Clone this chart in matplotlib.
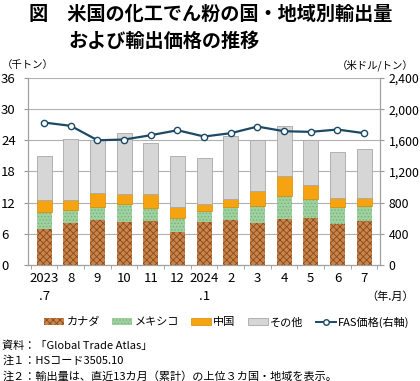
import matplotlib
matplotlib.use('Agg')
import matplotlib.pyplot as plt
import numpy as np
from matplotlib.patches import Patch
from matplotlib.lines import Line2D

plt.rcParams['font.family'] = ['Noto Sans CJK JP', 'DejaVu Sans']
plt.rcParams['hatch.linewidth'] = 0.6

# data (千トン, 米ドル/トン)
months = ['2023\n.7', '8', '9', '10', '11', '12', '2024\n.1', '2', '3', '4', '5', '6', '7']
canada = [6.9, 8.05, 8.6, 8.3, 8.4, 6.3, 8.2, 8.6, 8.0, 8.8, 9.1, 7.9, 8.4]
mexico = [3.3, 2.45, 2.5, 3.5, 2.6, 2.7, 2.1, 2.5, 3.3, 4.4, 3.5, 3.2, 2.9]
china = [2.2, 2.0, 2.7, 1.9, 2.6, 2.1, 1.5, 1.6, 2.9, 3.9, 2.8, 1.7, 1.5]
other = [8.6, 11.8, 10.2, 11.8, 9.9, 9.8, 8.7, 12.1, 9.9, 9.6, 8.6, 8.9, 9.5]
fas_price = [1829, 1786, 1601, 1610, 1666, 1730, 1649, 1692, 1777, 1717, 1709, 1739, 1692]

c_canada = '#c8844a'
c_mexico = '#9fd09f'
c_china = '#f5a310'
c_other = '#d6d6d6'
c_line = '#1c4a66'

fig = plt.figure(figsize=(4.2, 3.81), dpi=100)
ax = fig.add_axes([0.067, 0.305, 0.838, 0.49])
ax2 = ax.twinx()

x = np.arange(len(months))
w = 0.57
b1 = np.array(canada)
b2 = b1 + np.array(mexico)
b3 = b2 + np.array(china)
ax.bar(x, canada, w, color=c_canada, edgecolor='#8a4b1c', hatch='xxxxx', linewidth=0, zorder=3)
ax.bar(x, mexico, w, bottom=b1, color=c_mexico, edgecolor='#78b478', hatch='.....', linewidth=0, zorder=3)
ax.bar(x, china, w, bottom=b2, color=c_china, edgecolor='#d88a00', linewidth=0.5, zorder=3)
ax.bar(x, other, w, bottom=b3, color=c_other, edgecolor='#a8a8a8', linewidth=0.6, zorder=3)

ax2.plot(x, fas_price, color=c_line, lw=1.6, marker='o', ms=4.5, mfc='white', mec=c_line, mew=1.0, zorder=5)

ax.set_xlim(-0.6, len(months) - 0.4)
ax.set_ylim(0, 36)
ax.set_yticks(range(0, 37, 6))
ax2.set_ylim(0, 2400)
ax2.set_yticks(range(0, 2401, 400))
ax2.set_yticklabels([f'{v:,}' for v in range(0, 2401, 400)])
ax.grid(axis='y', color='#b0b0b0', lw=0.8, zorder=0)
ax.set_axisbelow(True)

ax.set_xticks(x)
ax.set_xticklabels(months, fontsize=9.5, linespacing=1.5, va='top')
ax.set_xticks(np.arange(-0.5, len(months), 1), minor=True)
ax.tick_params(axis='x', which='major', length=0, pad=5)
ax.tick_params(axis='x', which='minor', length=3, color='#999999')
ax.tick_params(axis='y', length=3, color='#999999', labelsize=9.5, pad=16.5)
ax2.tick_params(axis='y', length=3, color='#999999', labelsize=8.8, pad=3)
for lab in ax.get_yticklabels():
    lab.set_horizontalalignment('left')
for a in (ax, ax2):
    for s in a.spines.values():
        s.set_color('#a0a0a0')
    a.spines['top'].set_visible(False)

fig.text(0.07, 0.963, '図　米国の化工でん粉の国・地域別輸出量', fontsize=13.8, fontweight='bold', va='center')
fig.text(0.163, 0.89, 'および輸出価格の推移', fontsize=13.8, fontweight='bold', va='center')
fig.text(0.005, 0.83, '（千トン）', fontsize=7.5, va='center')
fig.text(0.985, 0.83, '（米ドル/トン）', fontsize=7.5, va='center', ha='right')
fig.text(0.985, 0.222, '（年.月）', fontsize=8, va='center', ha='right')

handles = [Patch(facecolor=c_canada, edgecolor='#8a4b1c', hatch='xxxxx', lw=0),
           Patch(facecolor=c_mexico, edgecolor='#78b478', hatch='.....', lw=0),
           Patch(facecolor=c_china, edgecolor='#d88a00', lw=0.5),
           Patch(facecolor=c_other, edgecolor='#a8a8a8', lw=0.6),
           Line2D([0], [0], color=c_line, lw=1.4, marker='o', ms=4, mfc='white', mec=c_line)]
labels = ['カナダ', 'メキシコ', '中国', 'その他', 'FAS価格(右軸)']
fig.legend(handles, labels, loc='center', bbox_to_anchor=(0.54, 0.155), ncol=5, frameon=False,
           fontsize=8, handlelength=1.8, handleheight=0.6, handletextpad=0.2, columnspacing=1.1)

notes = ['資料：「Global Trade Atlas」', '注１：HSコード3505.10', '注２：輸出量は、直近13カ月（累計）の上位３カ国・地域を表示。']
for i, t in enumerate(notes):
    fig.text(0.005, 0.093 - i * 0.04, t, fontsize=8, va='center')

fig.savefig('out.png', dpi=100)
